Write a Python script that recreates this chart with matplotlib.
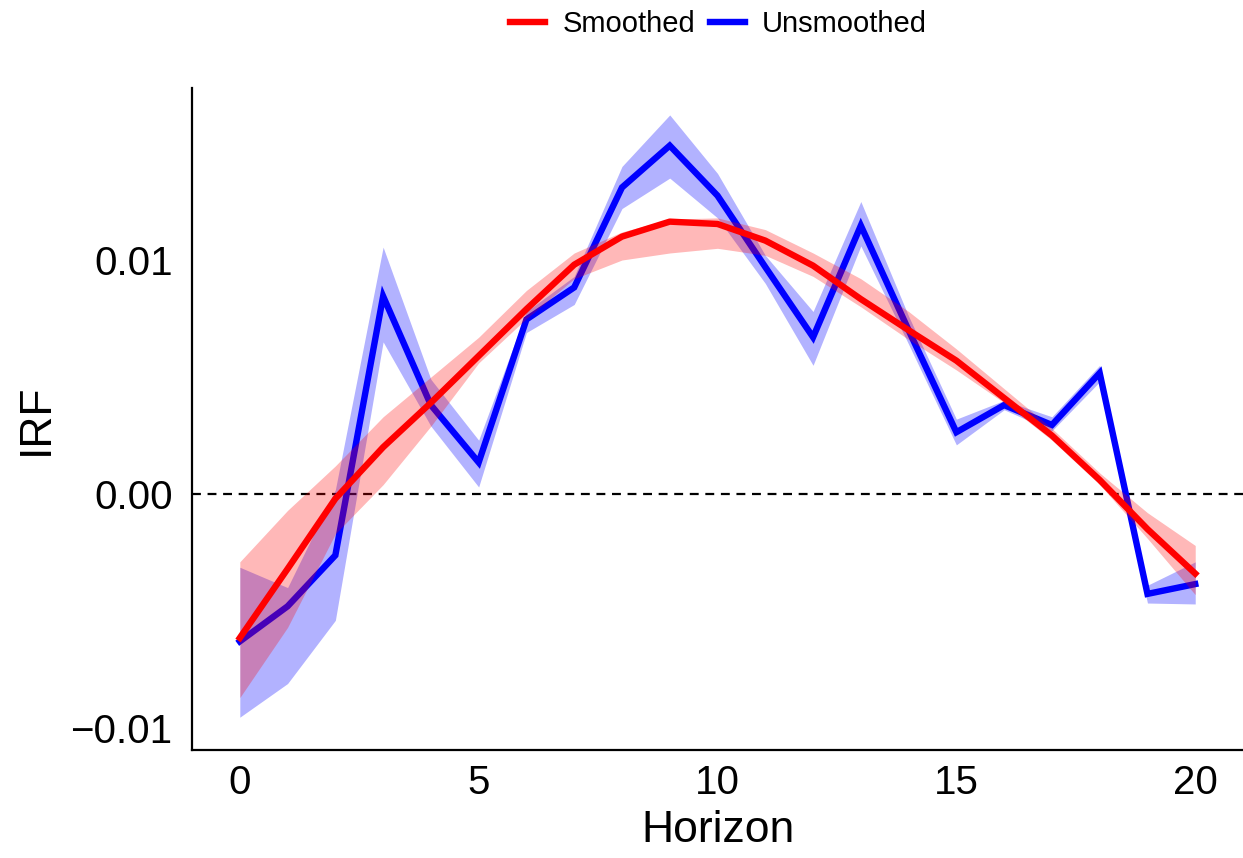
import matplotlib
matplotlib.use("Agg")
import matplotlib.pyplot as plt
from matplotlib.lines import Line2D
import numpy as np

plt.rcParams['font.family'] = ['Liberation Sans', 'DejaVu Sans']

horizon = list(range(21))

smoothed = [-0.00615, -0.0032, -0.0002, 0.0020, 0.0039, 0.0059, 0.0079, 0.0098,
            0.0110, 0.01164, 0.01154, 0.01083, 0.00976, 0.00833, 0.0070, 0.0057,
            0.0041, 0.0025, 0.0006, -0.0015, -0.0034]
smoothed_lo = [-0.0087, -0.0057, -0.0017, 0.0004, 0.0029, 0.0056, 0.0075, 0.0092,
               0.0100, 0.0103, 0.0105, 0.0102, 0.0093, 0.0080, 0.0066, 0.0053,
               0.0039, 0.0023, 0.0004, -0.0019, -0.0043]
smoothed_hi = [-0.0029, -0.0007, 0.0012, 0.0033, 0.0050, 0.0067, 0.0087, 0.0103,
               0.0112, 0.01175, 0.0118, 0.0113, 0.0103, 0.0092, 0.0078, 0.0062,
               0.0045, 0.0028, 0.0009, -0.0008, -0.0022]

unsmoothed = [-0.0063, -0.0048, -0.00262, 0.00845, 0.0038, 0.00135, 0.00746, 0.00883,
              0.0131, 0.01489, 0.01275, 0.0097, 0.0067, 0.01147, 0.0070, 0.00264,
              0.0038, 0.00295, 0.00517, -0.00427, -0.00385]
unsmoothed_lo = [-0.00954, -0.0081, -0.0054, 0.0065, 0.0029, 0.0003, 0.0069, 0.0081,
                 0.0122, 0.0135, 0.0118, 0.0090, 0.0055, 0.0106, 0.0064, 0.0021,
                 0.0036, 0.0027, 0.0048, -0.00466, -0.0047]
unsmoothed_hi = [-0.00313, -0.0040, 0.00018, 0.01055, 0.0049, 0.0023, 0.0078, 0.0093,
                 0.0140, 0.0162, 0.0137, 0.0102, 0.0078, 0.0125, 0.0076, 0.0032,
                 0.0040, 0.0033, 0.0055, -0.0039, -0.0029]

x_ticks = [0, 5, 10, 15, 20]
y_ticks = [-0.01, 0.0, 0.01]
y_tick_labels = ["\u22120.01", "0.00", "0.01"]

fig = plt.figure(figsize=(12.43, 8.58), dpi=100)
ax = fig.add_axes([0.1545, 0.1259, 0.8455, 0.7715])

ax.axhline(0, color='black', linestyle=(0, (4, 3)), linewidth=1.6, zorder=1)
ax.fill_between(horizon, unsmoothed_lo, unsmoothed_hi, color=(0, 0, 1), alpha=0.30, linewidth=0, zorder=2)
ax.plot(horizon, unsmoothed, color='#0000FF', linewidth=4.6, solid_joinstyle='miter', zorder=3)
ax.fill_between(horizon, smoothed_lo, smoothed_hi, color=(1, 0, 0), alpha=0.28, linewidth=0, zorder=4)
ax.plot(horizon, smoothed, color='#FF0000', linewidth=4.6, zorder=5)

ax.set_xlim(-1, 21)
ax.set_ylim(-0.01094, 0.01735)
ax.set_xticks(x_ticks)
ax.set_xticklabels([str(v) for v in x_ticks])
ax.set_yticks(y_ticks)
ax.set_yticklabels(y_tick_labels)
ax.tick_params(axis='both', length=0, labelsize=29, labelcolor='black')
ax.tick_params(axis='y', pad=14)
ax.tick_params(axis='x', pad=10)
ax.spines['top'].set_visible(False)
ax.spines['right'].set_visible(False)
for s in ('left', 'bottom'):
    ax.spines[s].set_linewidth(1.6)
    ax.spines[s].set_color('black')
ax.set_xlabel("Horizon", fontsize=32, labelpad=6)
ax.set_ylabel("IRF", fontsize=32, labelpad=10)

handles = [Line2D([0], [0], color='#FF0000', linewidth=4.6),
           Line2D([0], [0], color='#0000FF', linewidth=4.6)]
fig.legend(handles, ["Smoothed", "Unsmoothed"], loc='center', bbox_to_anchor=(0.578, 0.972),
           ncol=2, frameon=False, fontsize=21, handlelength=1.2, handletextpad=0.6,
           columnspacing=0.5)

fig.savefig("out.png", dpi=100)
